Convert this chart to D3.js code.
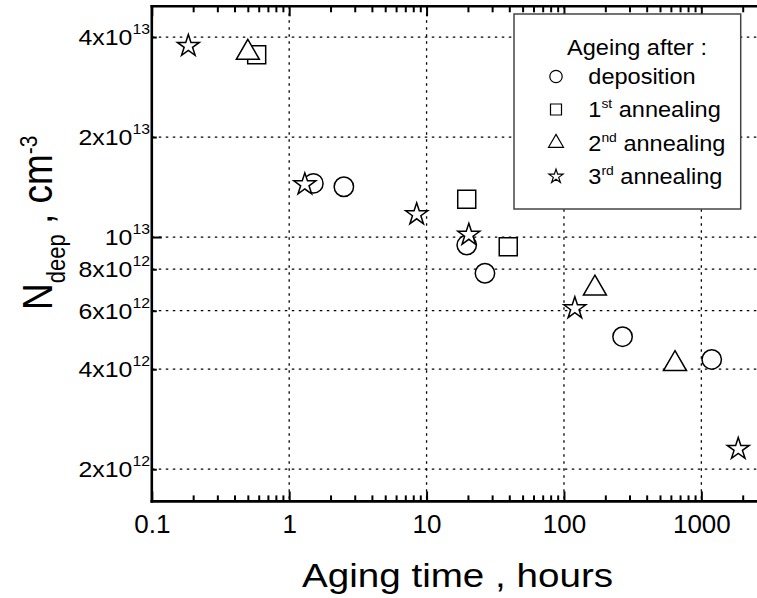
<!DOCTYPE html>
<html><head><meta charset="utf-8">
<script src="https://cdn.jsdelivr.net/npm/d3@7"></script>
<style>
html,body{margin:0;padding:0;background:#fff;}
svg{display:block;font-family:"Liberation Sans",Arial,Helvetica,sans-serif;}
</style></head><body>
<svg id="chart" width="757" height="598"></svg>
<script>
// Deep-level density N_deep versus ageing time, one series per treatment stage
const seriesNames = ["deposition", "1st annealing", "2nd annealing", "3rd annealing"];
const depositionTime = [1.5, 2.5, 19.6, 26.6, 267, 1190];
const depositionN    = [1.45e13, 1.417e13, 9.46e12, 7.78e12, 5.01e12, 4.28e12];
const anneal1Time = [0.58, 19.6, 39.3];
const anneal1N    = [3.54e13, 1.30e13, 9.35e12];
const anneal2Time = [0.50, 168, 643];
const anneal2N    = [3.59e13, 7.0e12, 4.15e12];
const anneal3Time = [0.1845, 1.30, 8.47, 20.3, 120, 1856];
const anneal3N    = [3.76e13, 1.44e13, 1.17e13, 1.015e13, 6.1e12, 2.30e12];

const xMajorTicks = [0.1, 1, 10, 100, 1000];
const xTickLabels = ["0.1", "1", "10", "100", "1000"];
const yTicks        = [2e12, 4e12, 6e12, 8e12, 1e13, 2e13, 4e13];
const yTickMantissa = ["2x10", "4x10", "6x10", "8x10", "10", "2x10", "4x10"];
const yTickExponent = ["12", "12", "12", "12", "13", "13", "13"];

const svg = d3.select("#chart");
const W = 757;

const x = d3.scaleLog().domain([0.1, 3000]).range([151.8, 766.9]);
const y = d3.scaleLog().domain([1.6e12, 4.95e13]).range([501.4, 6.3]);
const plotL = x(0.1), plotT = y(4.95e13), plotB = y(1.6e12), plotR = W;

// minor ticks 2..9 within each decade
const xMinorTicks = [];
[0.1, 1, 10, 100, 1000].forEach(d => { for (let k = 2; k <= 9; k++) xMinorTicks.push(d * k); });

// dotted grid
const grid = svg.append("g").attr("stroke", "#000").attr("stroke-width", 1.3)
  .attr("stroke-dasharray", "2.5,4.5");
grid.selectAll("line.v").data(xMajorTicks.slice(1)).join("line").attr("class", "v")
  .attr("x1", d => x(d)).attr("x2", d => x(d)).attr("y1", plotT).attr("y2", plotB);
grid.selectAll("line.h").data(yTicks).join("line").attr("class", "h")
  .attr("x1", plotL).attr("x2", plotR).attr("y1", d => y(d)).attr("y2", d => y(d));

function styleAxis(g) {
  g.select(".domain").remove();
  g.selectAll(".tick line").attr("stroke", "#000").attr("stroke-width", 2);
}

// bottom axis
svg.append("g").attr("transform", `translate(0,${plotB})`)
  .call(d3.axisBottom(x).tickValues(xMajorTicks).tickSize(-10).tickPadding(13)
    .tickFormat((d, i) => xTickLabels[i]))
  .call(styleAxis)
  .call(g => g.selectAll("text").attr("font-size", 26).attr("fill", "#000")
    .attr("font-family", "Liberation Sans, Arial, sans-serif"));
svg.append("g").attr("transform", `translate(0,${plotB})`)
  .call(d3.axisBottom(x).tickValues(xMinorTicks).tickSize(-6).tickFormat(""))
  .call(styleAxis);

// top axis
svg.append("g").attr("transform", `translate(0,${plotT})`)
  .call(d3.axisTop(x).tickValues(xMajorTicks).tickSize(-10).tickFormat(""))
  .call(styleAxis);
svg.append("g").attr("transform", `translate(0,${plotT})`)
  .call(d3.axisTop(x).tickValues(xMinorTicks).tickSize(-6).tickFormat(""))
  .call(styleAxis);

// left axis ticks
svg.append("g").attr("transform", `translate(${plotL},0)`)
  .call(d3.axisLeft(y).tickValues(yTicks.filter(v => v !== 1e13)).tickSize(-5).tickFormat(""))
  .call(styleAxis);
svg.append("g").attr("transform", `translate(${plotL},0)`)
  .call(d3.axisLeft(y).tickValues([1e13]).tickSize(-10).tickFormat(""))
  .call(styleAxis);

// frame lines
const frame = svg.append("g").attr("stroke", "#000").attr("stroke-width", 2.6)
  .attr("stroke-linecap", "square");
frame.append("line").attr("x1", plotL).attr("x2", plotR).attr("y1", plotB).attr("y2", plotB);
frame.append("line").attr("x1", plotL).attr("x2", plotR).attr("y1", plotT).attr("y2", plotT);
frame.append("line").attr("x1", plotL).attr("x2", plotL).attr("y1", plotT).attr("y2", plotB);

// y tick labels with exponents
const yLab = svg.append("g").selectAll("g").data(yTicks).join("g")
  .attr("transform", d => `translate(150,${y(d) + 8}) scale(1.13,1)`);
const yText = yLab.append("text").attr("text-anchor", "end").attr("fill", "#000");
yText.append("tspan").attr("font-size", 22).text((d, i) => yTickMantissa[i]);
yText.append("tspan").attr("font-size", 14).attr("dy", -11).text((d, i) => yTickExponent[i]);

// axis titles
const xt = svg.append("g").attr("transform", "translate(457.5,587) scale(1.17,1)");
xt.append("text").attr("text-anchor", "middle").attr("font-size", 33).attr("fill", "#000")
  .text("Aging time , hours");

const yt = svg.append("g").attr("transform", "translate(52,310) scale(1.15,1) rotate(-90)");
const ytt = yt.append("text").attr("font-size", 37).attr("fill", "#000");
ytt.append("tspan").text("N");
ytt.append("tspan").attr("font-size", 22).attr("dy", 11).text("deep");
ytt.append("tspan").attr("dy", -11).text(" , cm");
ytt.append("tspan").attr("font-size", 21).attr("dy", -13).text("-3");

// data markers
const series = [
  { name: seriesNames[0], t: depositionTime, n: depositionN, type: d3.symbolCircle, size: 295, legendSize: Math.PI * 6.2 * 6.2 },
  { name: seriesNames[1], t: anneal1Time, n: anneal1N, type: d3.symbolSquare, size: 324, legendSize: 121 },
  { name: seriesNames[2], t: anneal2Time, n: anneal2N, type: d3.symbolTriangle, size: 229, legendSize: 97 },
  { name: seriesNames[3], t: anneal3Time, n: anneal3N, type: d3.symbolStar, size: 150, legendSize: 62 }
];

const marks = svg.append("g");
series.forEach(s => {
  const pts = s.t.map((t, i) => [t, s.n[i]]);
  marks.append("g").selectAll("path").data(pts).join("path")
    .attr("transform", d => `translate(${x(d[0])},${y(d[1])})`)
    .attr("d", d3.symbol(s.type, s.size)())
    .attr("fill", "#fff").attr("stroke", "#000").attr("stroke-width", 1.5)
    .attr("stroke-linejoin", "miter");
});

// legend
const lg = svg.append("g");
lg.append("rect").attr("x", 514).attr("y", 14).attr("width", 226.7).attr("height", 195)
  .attr("fill", "#fff").attr("stroke", "#444").attr("stroke-width", 1.5);
lg.append("g").attr("transform", "translate(637,55) scale(1.07,1)")
  .append("text").attr("text-anchor", "middle").attr("font-size", 22).attr("fill", "#000")
  .text("Ageing after :");
const rowBase = [84, 117, 150.5, 184];
series.forEach((s, i) => {
  const by = rowBase[i];
  lg.append("path").attr("transform", `translate(556,${by - 7.5})`)
    .attr("d", d3.symbol(s.type, s.legendSize)())
    .attr("fill", "#fff").attr("stroke", "#000").attr("stroke-width", 1.2);
  const g = lg.append("g").attr("transform", `translate(588.3,${by}) scale(1.07,1)`);
  const t = g.append("text").attr("font-size", 22).attr("fill", "#000");
  const m = s.name.match(/^(\d)(st|nd|rd) (.*)$/);
  if (m) {
    t.append("tspan").text(m[1]);
    t.append("tspan").attr("font-size", 13).attr("dy", -9).text(m[2]);
    t.append("tspan").attr("dy", 9).text(" " + m[3]);
  } else {
    t.text(s.name);
  }
});
</script>
</body></html>
